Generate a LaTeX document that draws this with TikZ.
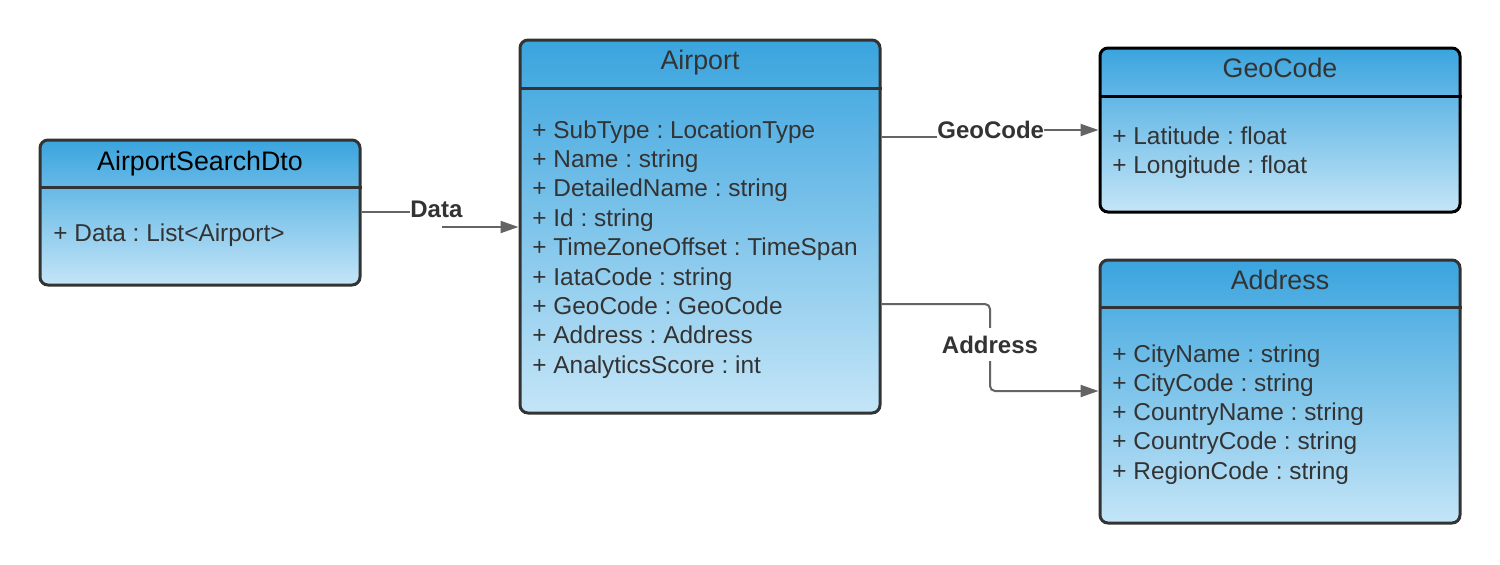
\documentclass[tikz,border=0pt]{standalone}
\usepackage{fontspec}
\setmainfont{Liberation Sans}
\usetikzlibrary{arrows.meta}
\frenchspacing
\definecolor{gtop}{RGB}{58,164,222}
\definecolor{gbot}{RGB}{196,229,247}
\definecolor{edgec}{RGB}{51,51,51}
\definecolor{txtc}{RGB}{51,51,51}
\definecolor{connc}{RGB}{100,100,100}
\begin{document}
\begin{tikzpicture}[x=0.5pt,y=-0.5pt,
 umlbox/.style={draw=edgec, line width=1.5pt, rounded corners=4pt, top color=gtop, bottom color=gbot, inner sep=0pt},
 divider/.style={draw=edgec, line width=1.5pt},
 titletxt/.style={anchor=base, inner sep=0pt, text=txtc, font=\fontsize{13.4}{16}\selectfont},
 attr/.style={anchor=base west, inner sep=0pt, text=txtc, font=\fontsize{12.2}{14.6}\selectfont},
 conn/.style={draw=connc, line width=1pt, -{Triangle[length=9pt,width=6pt]}},
 lbl/.style={fill=white, inner xsep=0pt, inner ysep=4pt, text=txtc, font=\bfseries\fontsize{12}{14.4}\selectfont}
]
\useasboundingbox[fill=white] (0,0) rectangle (1500,564);

% boxes
\node[umlbox, minimum width=160pt, minimum height=72.5pt] (dto) at (200,212.5) {};
\node[umlbox, minimum width=180pt, minimum height=186.5pt] (airport) at (700,226.5) {};
\node[umlbox, draw=black, minimum width=180pt, minimum height=82pt] (geo) at (1280,130) {};
\node[umlbox, minimum width=180pt, minimum height=131.5pt] (addr) at (1280,391.5) {};

% dividers
\draw[divider] (dto.west |- 0,187) -- (dto.east |- 0,187);
\draw[divider] (airport.west |- 0,88) -- (airport.east |- 0,88);
\draw[divider, draw=black] (geo.west |- 0,96) -- (geo.east |- 0,96);
\draw[divider] (addr.west |- 0,307) -- (addr.east |- 0,307);

% titles
\node[titletxt, text=black] (dtot) at (200,170) {AirportSearchDto};
\node[titletxt] (airportt) at (700,69) {Airport};
\node[titletxt] (geot) at (1280,77) {GeoCode};
\node[titletxt] (addrt) at (1280,289) {Address};

% attributes
\node[attr] (dto0) at (53,241) {+ Data : List<Airport>};
\foreach \t [count=\i from 0] in {+ SubType : LocationType, + Name : string, + DetailedName : string, + Id : string, + TimeZoneOffset : TimeSpan, + IataCode : string, + GeoCode : GeoCode, + Address : Address, + AnalyticsScore : int}
  \node[attr] (ap\i) at (532,{138+29.4*\i}) {\t};
\node[attr] (geo0) at (1112,144) {+ Latitude : float};
\node[attr] (geo1) at (1112,173) {+ Longitude : float};
\foreach \t [count=\i from 0] in {+ CityName : string, + CityCode : string, + CountryName : string, + CountryCode : string, + RegionCode : string}
  \node[attr] (ad\i) at (1112,{362+29.3*\i}) {\t};

% connectors
\draw[conn] (dto.east |- 0,212) -- (443,212) -- (443,227) -- (airport.west |- 0,227);
\node[lbl, anchor=base west, inner ysep=4.6pt] (ldata) at (410,217) {Data};

\draw[conn] (airport.east |- 0,137) -- (990,137) -- (990,130) -- (geo.west |- 0,130);
\node[lbl, anchor=base west] (lgeo) at (937,138) {GeoCode};

\draw[conn, rounded corners=2.5pt] (airport.east |- 0,304) -- (990,304) -- (990,391) -- (addr.west |- 0,391);
\node[lbl, anchor=base] (laddr) at (990,353) {Address};
\end{tikzpicture}
\end{document}
